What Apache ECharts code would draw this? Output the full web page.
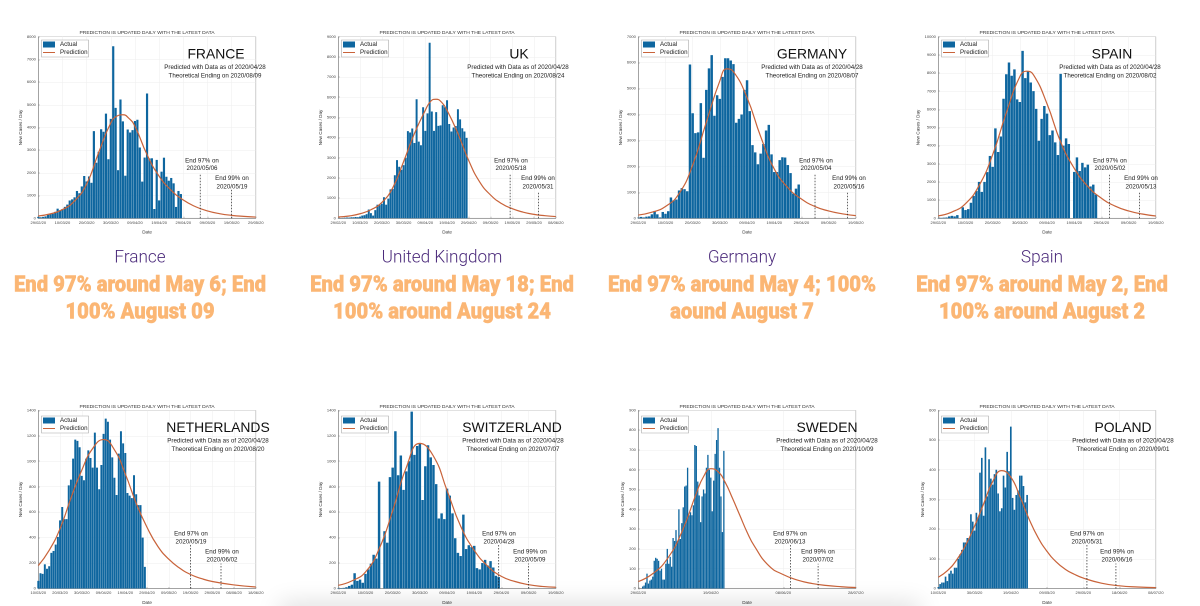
<!DOCTYPE html>
<html><head><meta charset="utf-8">
<style>
html,body{margin:0;padding:0;background:#fff;overflow:hidden;width:1200px;height:606px}
#c{width:1200px;height:606px;filter:blur(0.35px)}
#s{position:fixed;left:280px;top:606px;width:640px;height:20px;box-shadow:0 -2px 24px rgba(0,0,0,.15)}
</style>
<script src="https://cdn.jsdelivr.net/npm/echarts@6/dist/echarts.min.js"></script>
</head><body><div id="c"></div><div id="s"></div>
<script>
const chartTitle = 'PREDICTION IS UPDATED DAILY WITH THE LATEST DATA';
const ticksA = ['29/02/20','10/03/20','20/03/20','30/03/20','09/04/20','19/04/20','29/04/20','09/05/20','19/05/20','29/05/20'];
const ticksB = ['29/02/20','10/03/20','20/03/20','30/03/20','09/04/20','19/04/20','29/04/20','09/05/20','19/05/20','29/05/20','08/06/20'];
const ticksC = ['29/02/20','10/03/20','20/03/20','30/03/20','09/04/20','19/04/20','29/04/20','09/05/20','19/05/20'];
const ticksD = ['10/03/20','20/03/20','30/03/20','09/04/20','19/04/20','29/04/20','09/05/20','19/05/20','29/05/20','08/06/20','18/06/20'];
const ticksE = ['29/02/20','19/04/20','08/06/20','28/07/20'];
const ticksF = ['10/03/20','30/03/20','19/04/20','09/05/20','29/05/20','18/06/20','08/07/20'];

const franceActual = [60,40,60,80,150,200,200,280,420,350,400,500,600,780,830,920,1200,1100,1400,1860,1620,1840,1560,3838,2446,2931,3922,3809,4611,2599,4376,7578,4861,2116,5233,4267,1873,3912,3777,3881,4286,4342,3114,1613,2673,5497,2633,2641,405,2569,785,2051,2667,1827,1653,1773,1537,497,1200,1065];
const francePrediction = [[0,100],[5,190],[10,380],[15,760],[20,1500],[25,2900],[30,4200],[32.5,4500],[35,4560],[37.5,4400],[40,4050],[45,2800],[50,1850],[55,1230],[60,800],[65,510],[70,320],[75,200],[80,125],[85,80],[90,50]];
const ukActual = [5,10,15,25,35,30,45,45,60,50,80,130,150,200,430,250,130,400,670,650,720,1040,670,970,1430,1450,2130,2880,2550,2400,2630,3000,4320,4250,4450,3730,5900,3800,3620,5500,4330,5200,8700,5290,4330,5260,4580,4600,5600,5500,5850,4670,4300,4500,4570,5400,4900,4460,4300,3980];
const ukPrediction = [[0,60],[5,110],[10,220],[15,420],[20,780],[25,1500],[30,2800],[35,4200],[40,5350],[42.5,5800],[45,5900],[47.5,5750],[50,5350],[55,4200],[60,2850],[65,1800],[70,1150],[75,730],[80,470],[85,300],[90,190],[95,125],[100,80]];
const germanyActual = [20,50,30,60,70,150,280,150,30,240,170,270,800,690,720,1070,1160,1120,1040,5930,4050,3280,3310,4440,2330,4950,5780,6290,3950,4740,4600,5450,6170,6170,6080,5940,3680,3830,4000,4950,5320,4130,2820,2540,2080,2490,2860,3380,3600,2460,1780,1780,2240,2350,2340,2050,1740,950,1140,1300];
const germanyPrediction = [[0,120],[5,230],[10,450],[15,950],[20,2050],[25,3700],[30,5300],[32.5,5760],[35,5650],[40,4650],[45,3150],[50,1900],[55,1180],[60,740],[65,450],[70,280],[75,170],[80,100]];
const spainActual = [10,20,30,40,100,130,100,170,0,600,450,500,850,1230,1500,2000,1450,2000,2540,3430,2830,4950,3650,4500,6580,7930,8580,7850,8200,6550,6400,9220,7720,8100,7480,7000,6020,4270,5470,6180,5760,4580,4830,4180,3480,7950,4000,4400,4090,0,2550,3350,2600,3050,2800,2950,1750,1850,1300];
const spainPrediction = [[0,130],[5,340],[10,800],[15,1800],[20,3500],[25,5800],[30,7800],[32.5,8100],[35,7900],[40,6300],[45,4200],[50,2750],[55,1750],[60,1100],[65,670],[70,400],[75,230],[80,120]];
const netherlandsActual = [60,120,115,190,155,175,280,295,345,405,535,640,545,545,810,855,1020,1170,1160,1110,885,850,1020,1085,1025,950,1225,950,780,970,1215,1335,1310,1170,1030,870,735,1060,1235,1140,1065,750,730,710,890,740,655,655,400,170];
const netherlandsPrediction = [[0,180],[5,300],[10,470],[15,710],[20,930],[25,1100],[30,1170],[35,1090],[40,900],[45,670],[50,480],[55,330],[60,230],[65,160],[70,110],[75,78],[80,55],[90,28],[100,12]];
const switzerlandActual = [3,3,5,10,20,30,120,60,70,45,115,150,195,265,235,840,0,450,360,875,950,1235,890,1045,775,920,1000,1390,1050,1120,1140,695,960,1125,1030,970,820,550,590,545,785,730,590,395,280,255,580,310,340,325,335,160,150,200,225,180,215,165,100,90];
const switzerlandPrediction = [[0,25],[5,60],[10,130],[15,310],[20,610],[25,950],[30,1140],[35,1040],[40,770],[45,490],[50,300],[55,175],[60,95],[65,55],[70,30],[75,16],[80,10]];
const swedenActual = [0,0,0,10,15,30,75,25,40,45,60,140,155,150,140,90,100,45,45,125,200,125,160,110,255,240,295,240,400,250,330,410,515,520,610,370,385,370,420,725,720,540,470,335,465,500,480,610,675,600,560,390,545,680,750,810,610,465,285,695];
const swedenPrediction = [[0,35],[10,75],[20,150],[30,285],[40,480],[45,565],[50,605],[55,590],[60,535],[65,455],[70,370],[75,285],[80,215],[90,115],[100,70],[110,42],[120,25],[130,15],[140,9],[150,5]];
const polandActual = [5,15,20,20,40,25,50,60,50,70,70,100,115,130,155,155,170,170,250,225,195,255,240,390,440,245,475,310,435,370,350,385,400,320,260,270,380,340,460,395,545,305,265,315,330,380,380,345,290,315];
const polandPrediction = [[0,38],[5,60],[10,95],[15,145],[20,210],[25,285],[30,360],[35,397],[40,375],[45,310],[50,235],[55,172],[60,125],[65,90],[70,65],[75,48],[80,35],[90,18],[100,9],[110,5],[120,3]];

const names = ['FRANCE','UK','GERMANY','SPAIN','NETHERLANDS','SWITZERLAND','SWEDEN','POLAND'];
const theoreticalEnd = ['2020/08/09','2020/08/24','2020/08/07','2020/08/02','2020/08/20','2020/07/07','2020/10/09','2020/09/01'];
const end97 = ['2020/05/06','2020/05/18','2020/05/04','2020/05/02','2020/05/19','2020/04/28','2020/06/13','2020/05/31'];
const end99 = ['2020/05/19','2020/05/31','2020/05/16','2020/05/13','2020/06/02','2020/05/09','2020/07/02','2020/06/16'];
const end97Day = [67,79,65,63,70,59,105,82];
const end99Day = [80,92,77,74,84,70,124,98];
const end97Top = [1950,2200,1730,2440,350,350,225,150];
const end99Top = [1250,1320,990,1470,196,196,125,84];
const yMax = [8000,9000,7000,10000,1400,1400,900,600];
const yStep = [1000,1000,1000,1000,200,200,100,100];
const xStep = [10,10,10,10,10,10,50,20];
const tickSets = [ticksA,ticksB,ticksC,ticksC,ticksD,ticksC,ticksE,ticksF];
const actuals = [franceActual,ukActual,germanyActual,spainActual,netherlandsActual,switzerlandActual,swedenActual,polandActual];
const predictions = [francePrediction,ukPrediction,germanyPrediction,spainPrediction,netherlandsPrediction,switzerlandPrediction,swedenPrediction,polandPrediction];
const captionNames = ['France','United Kingdom','Germany','Spain'];
const captionLine1 = ['End 97% around May 6; End','End 97% around May 18; End','End 97% around May 4; 100%','End 97% around May 2, End'];
const captionLine2 = ['100% August 09','100% around August 24','aound August 7','100% around August 2'];

// layout (in px, text anchors measured inside each panel)
const panelX = [0,300,600,900,0,300,600,900];
const panelY = [20,20,20,20,396,396,396,396];
const nameCx = [216,219,212,212,218,212,227,223];
const subCx  = [215,218,212,210,218,213,227,223];
const text97Cx = [202,211,216,210,191,199,190,187];
const text99Cx = [232,238,249,241,222,230,218,217];
const yNameGap = [11.5,11.5,11.5,15.5,11.5,11.5,11.5,11.5];
const captionCx = [140,442,742,1042];
const lineIcon = 'path://M0 2.5H12V3.5H0Z M6 0L6.01 0L6 0.01Z M6 6L6.01 6L6 5.99Z';

const grid=[],xAxis=[],yAxis=[],legend=[],series=[],graphic=[];
const label = (x,y,text,size,opt={},el={}) => graphic.push(Object.assign({type:'text',silent:true,z:20,x,y,style:Object.assign({x:0,y:0,text,fontSize:size,fontFamily:'Liberation Sans',fill:'#222',align:'center',verticalAlign:'middle'},opt)},el));

names.forEach((nm,i)=>{
  const row1 = i<4;
  const px=panelX[i], py=panelY[i];
  const top = row1?36.7:410.3, h = row1?181.5:181;
  const w = 217.5;
  const ticks = tickSets[i];
  const xMax = (ticks.length-1)*xStep[i];
  const dayPx = w/xMax;
  grid.push({left:px+38.3,top,width:w,height:h,show:true,borderColor:'#aaa',borderWidth:0.5,containLabel:false});
  xAxis.push({gridIndex:i,type:'value',min:0,max:xMax,interval:xStep[i],
    name:'Date',nameLocation:'middle',nameGap:11.5,nameTextStyle:{fontSize:4.6,color:'#333',fontFamily:'Liberation Sans'},
    axisLine:{lineStyle:{color:'#666',width:0.5}},axisTick:{inside:true,length:1.5,lineStyle:{color:'#666',width:0.4}},
    axisLabel:{fontSize:4,color:'#444',margin:2.5,fontFamily:'Liberation Sans',showMinLabel:true,showMaxLabel:true,hideOverlap:false,formatter:v=>ticks[Math.round(v/xStep[i])]||''},
    splitLine:{show:true,lineStyle:{color:'#eee',width:0.5}}});
  yAxis.push({gridIndex:i,type:'value',min:0,max:yMax[i],interval:yStep[i],
    name:'New Cases / Day',nameLocation:'middle',nameGap:yNameGap[i],nameTextStyle:{fontSize:4.6,color:'#333',fontFamily:'Liberation Sans'},
    axisLine:{show:true,lineStyle:{color:'#666',width:0.5}},axisTick:{show:true,inside:true,length:1.5,lineStyle:{color:'#666',width:0.4}},
    axisLabel:{fontSize:4,color:'#444',margin:2.5,fontFamily:'Liberation Sans',formatter:v=>String(v)},
    splitLine:{show:true,lineStyle:{color:'#eee',width:0.5}}});
  legend.push({left:px+41.5,top:py+20,orient:'vertical',itemWidth:12,itemHeight:6,itemGap:2,padding:[1.5,1,1.5,1.5],
    data:[{name:'Actual',icon:'rect'},{name:'Prediction',icon:lineIcon}],backgroundColor:'#fff',borderColor:'#aaa',borderWidth:0.6,selectedMode:false,
    textStyle:{fontSize:6.2,color:'#222',fontFamily:'Liberation Sans'}});
  series.push({name:'Actual',type:'bar',xAxisIndex:i,yAxisIndex:i,barWidth:dayPx*0.9,
    data:actuals[i].map((v,d)=>[d,v]),itemStyle:{color:'#0e669f'},animation:false,silent:true});
  series.push({name:'Prediction',type:'line',xAxisIndex:i,yAxisIndex:i,data:predictions[i],smooth:0.5,symbol:'none',showSymbol:false,
    lineStyle:{color:'#c9633a',width:1.2},itemStyle:{color:'#c9633a'},animation:false,silent:true,z:5});
  series.push({name:'End 97',type:'line',xAxisIndex:i,yAxisIndex:i,data:[[end97Day[i],0],[end97Day[i],end97Top[i]]],symbol:'none',
    lineStyle:{color:'#222',width:0.7,type:[1.5,1.5]},animation:false,silent:true,z:6});
  series.push({name:'End 99',type:'line',xAxisIndex:i,yAxisIndex:i,data:[[end99Day[i],0],[end99Day[i],end99Top[i]]],symbol:'none',
    lineStyle:{color:'#222',width:0.7,type:[1.5,1.5]},animation:false,silent:true,z:6});

  label(px+147,py+(row1?12.7:10.7),chartTitle,4.95,{fill:'#333'});
  const ny = py+(row1?34.7:32.3);
  label(px+nameCx[i],ny,nm,13.9,{fill:'#111'});
  label(px+subCx[i],py+(row1?47.3:45),'Predicted with Data as of 2020/04/28',6.2);
  label(px+subCx[i],py+(row1?55.7:53.3),'Theoretical Ending on '+theoreticalEnd[i],6.2);
  label(px+text97Cx[i],py+(row1?140.7:137.7),'End 97% on',6.2);
  label(px+text97Cx[i],py+(row1?148.3:145.7),end97[i],6.2);
  label(px+text99Cx[i],py+(row1?158.3:156),'End 99% on',6.2);
  label(px+text99Cx[i],py+(row1?166.7:163.7),end99[i],6.2);
});
captionNames.forEach((c,i)=>{
  label(captionCx[i],258,c,17.5,{fontFamily:'Roboto',fontWeight:300,fill:'#4b2a7b'},{scaleX:0.98});
  const heavy={fontFamily:'Roboto',fontWeight:900,fill:'#fbb674',stroke:'#fbb674',lineWidth:0.5};
  label(captionCx[i],286,captionLine1[i],22,heavy,{scaleX:0.92});
  label(captionCx[i],313,captionLine2[i],22,heavy,{scaleX:0.92});
});

const chart = echarts.init(document.getElementById('c'),null,{width:1200,height:606,devicePixelRatio:2});
chart.setOption({animation:false,backgroundColor:'#fff',tooltip:{show:false},grid,xAxis,yAxis,legend,series,graphic});
</script></body></html>
